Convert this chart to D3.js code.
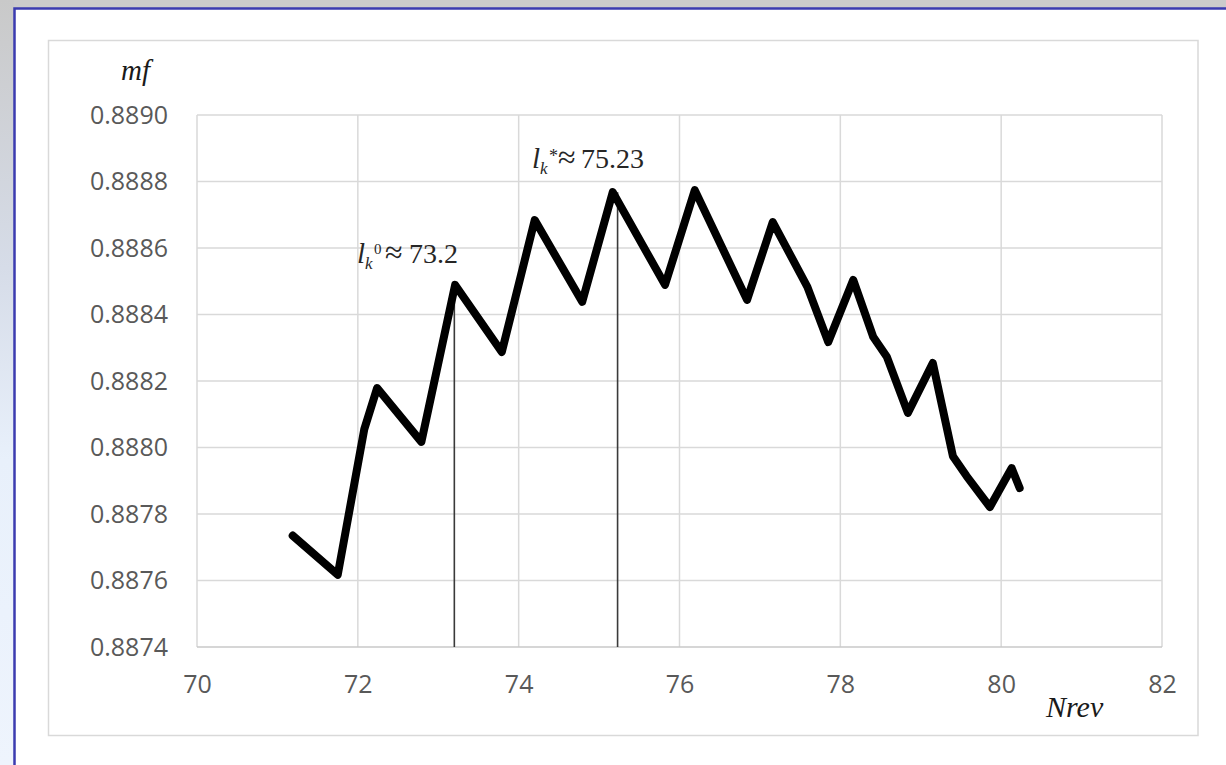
<!DOCTYPE html>
<html>
<head>
<meta charset="utf-8">
<script src="https://cdn.jsdelivr.net/npm/d3@7"></script>
<style>
  html, body { margin: 0; padding: 0; background: #ffffff; }
  svg { display: block; }
</style>
</head>
<body>
<svg id="chart" width="1226" height="765"></svg>
<script>
// Mass fraction mf against revolutions Nrev
const nrev = [71.19, 71.75, 72.08, 72.24, 72.79, 73.21, 73.79, 74.20, 74.79,
              75.17, 75.82, 76.19, 76.84, 77.16, 77.59, 77.85, 78.16, 78.41, 78.58,
              78.84, 79.15, 79.40, 79.57, 79.86, 80.13, 80.23];
const mf   = [0.887735, 0.887617, 0.888055, 0.888179, 0.888017, 0.888489, 0.888287, 0.888684, 0.888438,
              0.888768, 0.888489, 0.888774, 0.888444, 0.888678, 0.888483, 0.888317, 0.888504, 0.888332, 0.888272,
              0.888104, 0.888254, 0.887974, 0.887914, 0.887821, 0.887938, 0.887878];

// Axis ticks
const xTicks = [70, 72, 74, 76, 78, 80, 82];
const yTicks = [0.8874, 0.8876, 0.8878, 0.8880, 0.8882, 0.8884, 0.8886, 0.8888, 0.8890];

// Marked optima
const markX   = [73.2, 75.23];
const markTop = [0.888489, 0.888768];
const markSup = ["0", "*"];
const markVal = ["73.2", "75.23"];

const svg = d3.select("#chart");

// Page frame: grey surround, blue edge, white sheet
const defs = svg.append("defs");
const grad = defs.append("linearGradient").attr("id", "sideFade")
  .attr("x1", 0).attr("y1", 0).attr("x2", 0).attr("y2", 1);
grad.append("stop").attr("offset", "0%").attr("stop-color", "#c9c9c9");
grad.append("stop").attr("offset", "35%").attr("stop-color", "#d6dce8");
grad.append("stop").attr("offset", "60%").attr("stop-color", "#e8f0fb");
grad.append("stop").attr("offset", "100%").attr("stop-color", "#eef4fd");

svg.append("rect").attr("x", 0).attr("y", 0).attr("width", 1226).attr("height", 765).attr("fill", "#cbcbcb");
svg.append("rect").attr("x", 0).attr("y", 0).attr("width", 14).attr("height", 765).attr("fill", "url(#sideFade)");
svg.append("rect").attr("x", 14).attr("y", 8).attr("width", 1212).attr("height", 757).attr("fill", "#ffffff");
svg.append("path").attr("d", "M14.5,765 V8.5 H1226")
  .attr("fill", "none").attr("stroke", "#3b3bb0").attr("stroke-width", 2.5);

// Chart area border
svg.append("rect").attr("x", 48.5).attr("y", 40.5).attr("width", 1149.5).attr("height", 695)
  .attr("fill", "none").attr("stroke", "#d9d9d9").attr("stroke-width", 1.5);

const plot = { left: 197, right: 1162, top: 115, bottom: 647 };

const x = d3.scaleLinear().domain([70, 82]).range([plot.left, plot.right]);
const y = d3.scaleLinear().domain([0.8874, 0.8890]).range([plot.bottom, plot.top]);

// Grid
const grid = svg.append("g");
grid.selectAll("line.v").data(xTicks).join("line").attr("class", "v")
  .attr("x1", d => x(d)).attr("x2", d => x(d))
  .attr("y1", plot.top).attr("y2", plot.bottom)
  .attr("stroke", "#d9d9d9").attr("stroke-width", 1.5);
grid.selectAll("line.h").data(yTicks).join("line").attr("class", "h")
  .attr("x1", plot.left).attr("x2", plot.right)
  .attr("y1", d => y(d)).attr("y2", d => y(d))
  .attr("stroke", d => d === 0.8874 ? "#c8c8c8" : "#d9d9d9").attr("stroke-width", 1.5);

// Axes (labels only, lines come from the grid)
const tickFont = "'Open Sans', 'Noto Sans', sans-serif";
const xAxis = d3.axisBottom(x).tickValues(xTicks).tickSize(0).tickPadding(28).tickFormat(d3.format("d"));
const yAxis = d3.axisLeft(y).tickValues(yTicks).tickSize(0).tickPadding(29).tickFormat(d3.format(".4f"));

const gx = svg.append("g").attr("transform", `translate(0,${plot.bottom})`).call(xAxis);
const gy = svg.append("g").attr("transform", `translate(${plot.left},0)`).call(yAxis);
[gx, gy].forEach(g => {
  g.select(".domain").remove();
  g.selectAll("text").attr("fill", "#595959").style("font-family", tickFont).style("font-size", "25px");
});

// Marker lines at the optima
svg.selectAll("line.mark").data(markX).join("line").attr("class", "mark")
  .attr("x1", d => x(d)).attr("x2", d => x(d))
  .attr("y1", (d, i) => y(markTop[i])).attr("y2", plot.bottom)
  .attr("stroke", "#3a3a3a").attr("stroke-width", 1.6);

// Curve
const pts = nrev.map((n, i) => [n, mf[i]]);
svg.append("path").datum(pts)
  .attr("d", d3.line().x(d => x(d[0])).y(d => y(d[1])).curve(d3.curveLinear))
  .attr("fill", "none").attr("stroke", "#000000").attr("stroke-width", 8)
  .attr("stroke-linejoin", "round").attr("stroke-linecap", "round");

// Annotations: l with subscript k and a superscript, then "≈ value"
const serif = "'Liberation Serif', 'DejaVu Serif', serif";
const annLayout = [
  { x: 357, y: 263, k: 8, sup: 17, supY: -9, supSize: 15, eq: 28, num: 52 },
  { x: 532, y: 168, k: 8, sup: 17, supY: -6, supSize: 18, eq: 26, num: 49 }
];
markX.forEach((m, i) => {
  const L = annLayout[i];
  const t = svg.append("text").attr("fill", "#262626").style("font-family", serif);
  t.append("tspan").attr("x", L.x).attr("y", L.y)
    .style("font-style", "italic").style("font-size", "29px").text("l");
  t.append("tspan").attr("x", L.x + L.k).attr("y", L.y + 6)
    .style("font-style", "italic").style("font-size", "17px").text("k");
  t.append("tspan").attr("x", L.x + L.sup).attr("y", L.y + L.supY)
    .style("font-style", "normal").style("font-size", L.supSize + "px").text(markSup[i]);
  t.append("tspan").attr("x", L.x + L.eq).attr("y", L.y)
    .style("font-size", "32px").text("≈");
  t.append("tspan").attr("x", L.x + L.num).attr("y", L.y)
    .style("font-size", "28px").text(markVal[i]);
});

// Axis titles
svg.append("text").attr("x", 121).attr("y", 80)
  .attr("fill", "#1a1a1a").style("font-family", serif).style("font-style", "italic").style("font-size", "29px")
  .text("mf");
svg.append("text").attr("x", 1046).attr("y", 717)
  .attr("fill", "#1a1a1a").style("font-family", serif).style("font-style", "italic").style("font-size", "30px")
  .text("Nrev");
</script>
</body>
</html>
